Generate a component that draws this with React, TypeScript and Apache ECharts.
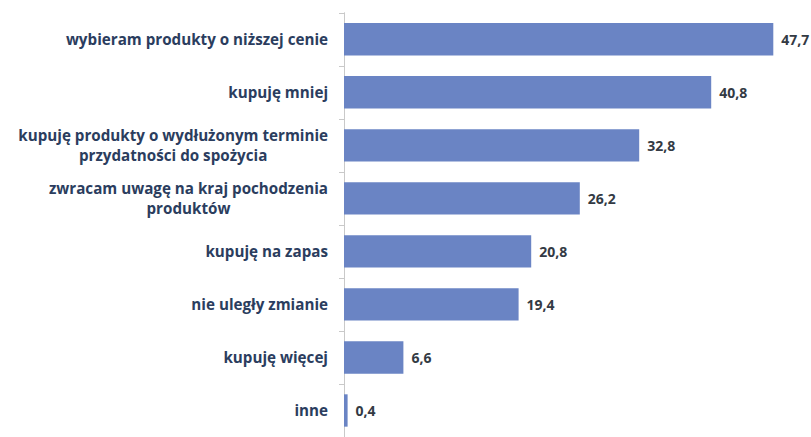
import React, { useEffect, useRef } from "react";
import * as echarts from "echarts";

const categories: string[] = [
  "wybieram produkty o niższej cenie",
  "kupuję mniej",
  "kupuję produkty o wydłużonym terminie\nprzydatności do spożycia",
  "zwracam uwagę na kraj pochodzenia\nproduktów",
  "kupuję na zapas",
  "nie uległy zmianie",
  "kupuję więcej",
  "inne",
];
const values: number[] = [47.7, 40.8, 32.8, 26.2, 20.8, 19.4, 6.6, 0.4];

export default function App() {
  const ref = useRef<HTMLDivElement>(null);
  useEffect(() => {
    if (!ref.current) return;
    const chart = echarts.init(ref.current, undefined, { renderer: "svg" });
    chart.setOption({
      animation: false,
      backgroundColor: "#ffffff",
      grid: { left: 344, right: 17, top: 12.75, bottom: -11.75, containLabel: false },
      xAxis: {
        type: "value",
        min: 0,
        max: 50,
        show: false,
      },
      yAxis: {
        type: "category",
        inverse: true,
        data: categories,
        axisLine: { show: true, lineStyle: { color: "#c9c9c9", width: 1 } },
        axisTick: { show: true, length: 5, lineStyle: { color: "#c9c9c9" } },
        splitLine: { show: false },
        axisLabel: {
          margin: 16,
          align: "right",
          fontFamily: "Open Sans",
          fontWeight: "bold",
          fontSize: 15.2,
          color: "#2b3d5e",
          lineHeight: 20,
          formatter: (v: string) =>
            v
              .split("\n")
              .map((l) => `{c|${l}}`)
              .join("\n"),
          rich: {
            c: {
              align: "center",
              fontFamily: "Open Sans",
              fontWeight: "bold",
              fontSize: 15.2,
              color: "#2b3d5e",
              lineHeight: 20,
            },
          },
        },
      },
      series: [
        {
          type: "bar",
          data: values,
          barCategoryGap: "39%",
          itemStyle: { color: "#6a84c4" },
          label: {
            show: true,
            position: "right",
            distance: 8,
            fontFamily: "Open Sans",
            fontWeight: "bold",
            fontSize: 14,
            color: "#333a44",
            formatter: (p: any) => String(p.value).replace(".", ","),
          },
        },
      ],
    });
    return () => chart.dispose();
  }, []);
  return (
    <div
      ref={ref}
      style={{ position: "absolute", left: 0, top: 0, width: 811, height: 437 }}
    />
  );
}
